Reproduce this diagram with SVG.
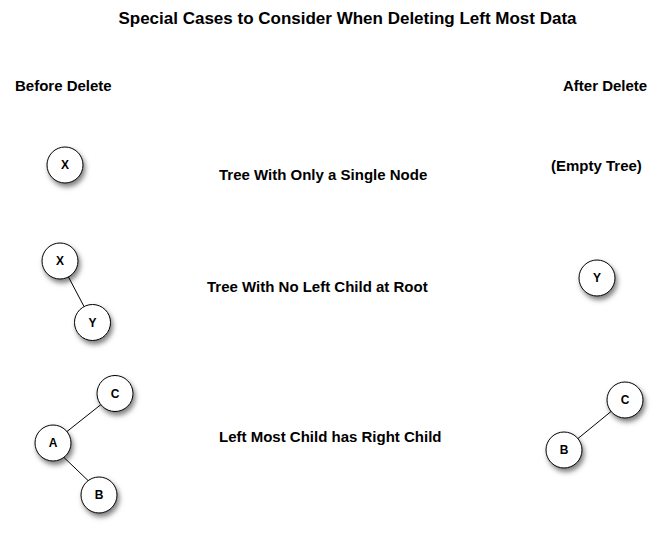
<svg xmlns="http://www.w3.org/2000/svg" width="666" height="536" viewBox="0 0 666 536">
<defs>
<filter id="sh" x="-50%" y="-50%" width="200%" height="200%">
<feDropShadow dx="2" dy="3.5" stdDeviation="2.5" flood-color="#000" flood-opacity="0.5"/>
</filter>
<style>
.t{font-family:"Liberation Sans",Arial,sans-serif;font-weight:bold;fill:#000}
.title{font-size:17px}
.lbl{font-size:15px}
.n circle{fill:#fff;stroke:#000;stroke-width:1;filter:url(#sh)}
.n text{font-family:"Liberation Sans",Arial,sans-serif;font-weight:bold;font-size:12px;text-anchor:middle;dominant-baseline:central}
.e line{stroke:#000;stroke-width:1}
</style>
</defs>
<rect width="666" height="536" fill="#fff"/>
<text class="t title" x="347.5" y="24" text-anchor="middle">Special Cases to Consider When Deleting Left Most Data</text>
<text class="t lbl" x="15" y="91">Before Delete</text>
<text class="t lbl" x="563" y="91">After Delete</text>
<text class="t lbl" x="219" y="180">Tree With Only a Single Node</text>
<text class="t lbl" x="551" y="171">(Empty Tree)</text>
<text class="t lbl" x="207" y="292">Tree With No Left Child at Root</text>
<text class="t lbl" x="219" y="442">Left Most Child has Right Child</text>
<g id="connectors" class="e">
<line x1="68.5" y1="277" x2="84" y2="306.5"/>
<line x1="67" y1="431.5" x2="101" y2="404.5"/>
<line x1="64" y1="457.5" x2="88" y2="480.5"/>
<line x1="611" y1="411.5" x2="578" y2="438.5"/>
</g>
<g id="n-x1" class="n"><circle cx="65" cy="165" r="18"/><text x="65" y="165">X</text></g>
<g id="n-x2" class="n"><circle cx="60" cy="261" r="18"/><text x="60" y="261">X</text></g>
<g id="n-y2" class="n"><circle cx="92.5" cy="322.5" r="18"/><text x="92.5" y="322.5">Y</text></g>
<g id="n-c3" class="n"><circle cx="115" cy="393.5" r="18"/><text x="115" y="393.5">C</text></g>
<g id="n-a3" class="n"><circle cx="53" cy="443" r="18"/><text x="53" y="443">A</text></g>
<g id="n-b3" class="n"><circle cx="99" cy="495" r="18"/><text x="99" y="495">B</text></g>
<g id="n-y2r" class="n"><circle cx="597" cy="278" r="18"/><text x="597" y="278">Y</text></g>
<g id="n-c3r" class="n"><circle cx="625" cy="400" r="18"/><text x="625" y="400">C</text></g>
<g id="n-b3r" class="n"><circle cx="564" cy="450" r="18"/><text x="564" y="450">B</text></g>
</svg>
